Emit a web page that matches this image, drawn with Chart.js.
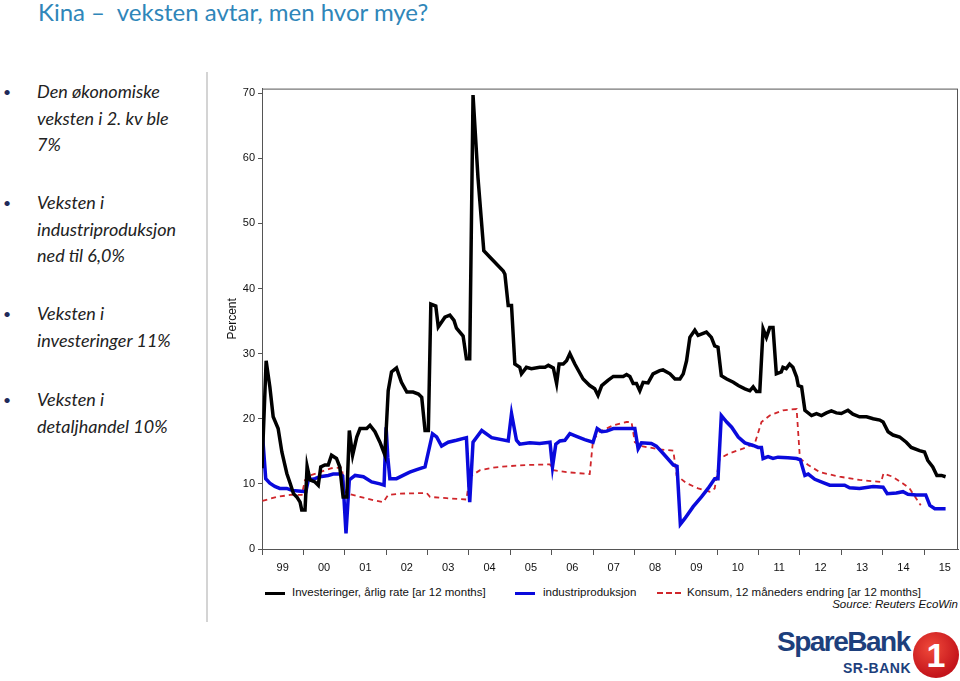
<!DOCTYPE html>
<html>
<head>
<meta charset="utf-8">
<script src="https://cdn.jsdelivr.net/npm/chart.js@4"></script>
<style>
  html, body { margin: 0; padding: 0; background: #fff; }
  #page { position: relative; width: 960px; height: 681px; overflow: hidden; font-family: 'Lato', 'Open Sans', sans-serif; }
  .title { position: absolute; left: 38px; top: -3px; font-size: 24px; color: #2f86b9; white-space: pre; }
  .bullet { position: absolute; left: 3px; font-size: 14px; color: #1f2a5a; }
  .txt { position: absolute; left: 37px; font-size: 18px; font-style: italic; color: #222; line-height: 26.5px; white-space: nowrap; }
  .sep { position: absolute; left: 206px; top: 72px; width: 2px; height: 550px; background: #d4d4d4; }
  #wrap { position: absolute; left: 200px; top: 79px; width: 760px; height: 505px; }
  .leg { position: absolute; top: 586px; font-family: 'Liberation Sans', Arial, sans-serif; font-size: 11.5px; color: #111; white-space: nowrap; }
  .legline { position: absolute; top: 592px; height: 0; }
  .src { position: absolute; right: 2px; top: 598px; font-family: 'Liberation Sans', Arial, sans-serif; font-size: 11.5px; font-style: italic; color: #111; }
  .logo1 { position: absolute; left: 777px; top: 626px; font-family: 'Liberation Sans', Arial, sans-serif; font-weight: bold; font-size: 28px; letter-spacing: -1.5px; color: #1d3f7c; }
  .logo2 { position: absolute; left: 843px; top: 660px; font-family: 'Liberation Sans', Arial, sans-serif; font-weight: bold; font-size: 14px; letter-spacing: 0.5px; color: #1d3f7c; }
  .logo3 { position: absolute; left: 913px; top: 632px; width: 46px; height: 46px; border-radius: 50%; background: radial-gradient(circle at 40% 35%, #f04a3a, #c4141b 70%); color: #fff; font-family: 'Liberation Sans', Arial, sans-serif; font-weight: bold; font-size: 34px; text-align: center; line-height: 46px; }
</style>
</head>
<body>
<div id="page">
  <div class="title">Kina –  veksten avtar, men hvor mye?</div>

  <div class="bullet" style="top:83px">•</div>
  <div class="txt" style="top:78px">Den økonomiske<br>veksten i 2. kv ble<br>7%</div>
  <div class="bullet" style="top:194px">•</div>
  <div class="txt" style="top:189px">Veksten i<br>industriproduksjon<br>ned til 6,0%</div>
  <div class="bullet" style="top:305px">•</div>
  <div class="txt" style="top:300px">Veksten i<br>investeringer 11%</div>
  <div class="bullet" style="top:391px">•</div>
  <div class="txt" style="top:386px">Veksten i<br>detaljhandel 10%</div>

  <div class="sep"></div>

  <div id="wrap"><canvas id="chart" width="760" height="505"></canvas></div>

  <div class="legline" style="left:265px;width:20px;border-top:3px solid #000"></div>
  <div class="leg" style="left:292px">Investeringer, årlig rate [ar 12 months]</div>
  <div class="legline" style="left:515px;width:20px;border-top:3px solid #0a0adc"></div>
  <div class="leg" style="left:543px">industriproduksjon</div>
  <div class="legline" style="left:657px;width:24px;border-top:2px dashed #d0262b"></div>
  <div class="leg" style="left:687px">Konsum, 12 måneders endring [ar 12 months]</div>
  <div class="src">Source: Reuters EcoWin</div>

  <div class="logo1">SpareBank</div>
  <div class="logo2">SR-BANK</div>
  <div class="logo3">1</div>
</div>

<script>
/* ── Data (x = år som desimaltall) ───────────────────────── */
const yearLabels = ['99','00','01','02','03','04','05','06','07','08','09','10','11','12','13','14','15'];

const invYears = [
  1999.00,1999.10,1999.19,1999.27,1999.39,1999.48,1999.60,1999.68,1999.76,1999.84,1999.92,1999.96,
  2000.04,2000.09,2000.16,2000.28,2000.36,2000.42,2000.52,2000.60,2000.68,2000.80,2000.88,2000.96,
  2001.05,2001.11,2001.19,2001.29,2001.37,2001.53,2001.61,2001.73,2001.85,2001.97,
  2002.05,2002.13,2002.25,2002.37,2002.50,2002.65,2002.78,2002.86,2002.94,
  2003.02,2003.08,2003.20,2003.26,2003.42,2003.54,2003.64,2003.70,2003.86,2003.94,
  2004.02,2004.10,2004.22,2004.36,2004.51,2004.83,2004.87,2004.95,
  2005.03,2005.11,2005.23,2005.27,2005.39,2005.51,2005.71,2005.84,2005.92,
  2006.04,2006.12,2006.18,2006.28,2006.36,2006.44,2006.56,2006.76,2006.92,
  2007.04,2007.12,2007.21,2007.36,2007.49,2007.73,2007.81,2007.89,2007.97,
  2008.05,2008.13,2008.21,2008.33,2008.45,2008.61,2008.69,2008.86,2008.98,
  2009.10,2009.18,2009.26,2009.34,2009.46,2009.54,2009.74,2009.86,2009.94,
  2010.02,2010.10,2010.23,2010.39,2010.51,2010.67,2010.79,2010.87,2010.95,
  2011.03,2011.11,2011.19,2011.27,2011.35,2011.43,2011.55,2011.59,2011.67,2011.75,2011.83,2011.92,2011.96,
  2012.04,2012.12,2012.28,2012.40,2012.52,2012.64,2012.76,2012.88,
  2013.00,2013.16,2013.28,2013.44,2013.61,2013.77,2013.93,
  2014.01,2014.13,2014.25,2014.41,2014.57,2014.69,2014.89,
  2015.01,2015.09,2015.21,2015.31,2015.42,2015.52
];
const invValues = [
  12.4,28.9,24.9,20.3,18.5,14.9,11.6,10.1,8.5,8.0,7.2,6.0,
  6.0,12.7,10.6,10.3,9.8,12.6,12.9,12.9,14.4,13.9,12.6,8.0,
  8.0,18.2,14.4,17.2,18.5,18.5,19.0,18.0,16.4,14.4,
  24.3,27.2,27.8,25.6,24.1,24.1,23.8,23.3,18.2,
  18.2,37.6,37.3,34.1,35.6,35.9,35.1,33.9,32.7,29.2,
  29.2,69.7,57.0,45.8,44.8,42.7,42.2,37.4,
  37.4,28.4,27.9,26.9,27.9,27.7,27.9,27.9,28.2,
  27.8,25.4,28.4,28.4,28.9,30.0,28.4,26.1,25.1,
  24.6,23.6,25.1,25.9,26.5,26.5,26.8,26.5,25.4,
  25.4,24.3,25.6,25.5,26.9,27.4,27.5,26.9,26.1,
  26.1,26.9,28.9,32.5,33.6,32.8,33.3,32.5,31.2,
  31.0,26.6,26.1,25.6,25.1,24.6,24.3,24.9,24.2,
  24.2,33.8,32.5,34.0,34.0,26.9,27.2,27.9,27.7,28.4,27.9,26.4,25.1,
  24.9,21.3,20.5,20.8,20.5,20.9,21.2,20.9,
  20.8,21.3,20.7,20.3,20.3,20.0,19.8,
  19.5,18.0,17.5,17.2,16.4,15.6,15.1,
  14.9,13.6,12.6,11.3,11.3,11.1
];

const indYears = [
  1999.01,1999.09,1999.19,1999.31,1999.43,1999.60,1999.72,1999.88,
  2000.06,2000.12,2000.28,2000.40,2000.60,2000.72,2000.88,2000.95,
  2001.03,2001.11,2001.25,2001.45,2001.65,2001.85,2001.95,
  2002.00,2002.04,2002.09,2002.25,2002.41,2002.57,2002.74,2002.94,
  2003.12,2003.22,2003.34,2003.50,2003.70,2003.94,
  2004.02,2004.10,2004.31,2004.55,2004.95,
  2005.03,2005.15,2005.23,2005.47,2005.71,2005.96,
  2006.02,2006.10,2006.20,2006.32,2006.44,2006.60,2006.80,
  2007.00,2007.10,2007.21,2007.33,2007.49,
  2008.01,2008.09,2008.17,2008.41,2008.53,2008.69,2008.94,
  2009.03,2009.11,2009.22,2009.42,2009.62,2009.78,2009.94,
  2010.02,2010.10,2010.23,2010.35,2010.51,2010.67,2010.87,2010.99,
  2011.07,2011.11,2011.23,2011.35,2011.47,2011.71,2011.92,
  2012.01,2012.12,2012.20,2012.36,2012.56,2012.72,
  2013.08,2013.20,2013.44,2013.77,
  2014.01,2014.11,2014.33,2014.49,2014.61,2014.81,
  2015.04,2015.14,2015.26,2015.52
];
const indValues = [
  17.7,10.8,10.1,9.6,9.3,9.3,9.0,8.9,
  8.8,10.6,10.8,11.1,11.3,11.5,11.5,11.2,
  2.4,10.6,11.3,11.1,10.3,10.0,9.8,
  18.7,14.1,10.8,10.8,11.3,11.8,12.2,12.6,
  17.7,17.2,15.8,16.4,16.7,17.1,
  7.2,16.4,18.2,17.1,16.6,
  20.8,16.7,16.1,16.3,16.2,16.4,
  12.6,16.1,16.6,16.7,17.7,17.3,16.8,
  16.4,18.5,18.0,18.1,18.5,
  18.5,15.4,16.3,16.2,15.8,14.7,12.9,
  12.7,3.8,4.7,6.5,8.0,9.3,10.8,
  10.8,20.5,19.5,18.7,17.2,16.3,15.9,15.6,
  15.6,13.9,14.2,13.9,14.1,14.0,13.9,
  13.7,11.3,11.5,10.7,10.2,9.8,
  9.8,9.4,9.3,9.6,
  9.5,8.5,8.6,8.8,8.4,8.3,
  8.3,6.7,6.2,6.2
];

const konYears = [
  1999.01,1999.36,1999.68,1999.96,
  2000.04,2000.16,2000.40,2000.68,2000.93,
  2001.00,2001.13,2001.37,2001.69,2001.93,
  2002.05,2002.33,2002.98,
  2003.06,2003.46,2003.94,
  2004.02,2004.27,2004.59,2004.91,
  2005.39,2005.96,
  2006.04,2006.36,2006.92,
  2007.00,2007.16,2007.49,2007.81,2007.93,
  2008.01,2008.17,2008.61,2008.94,
  2009.02,2009.26,2009.54,2009.82,2009.94,
  2010.06,2010.30,2010.62,2010.91,
  2011.07,2011.27,2011.59,2011.92,
  2012.00,2012.20,2012.48,2012.96,
  2013.44,2013.96,
  2014.02,2014.24,2014.48,2014.65,2014.92
];
const konValues = [
  7.4,8.0,8.3,8.3,
  10.6,11.3,11.8,12.4,12.5,
  8.8,8.4,8.0,7.5,7.2,
  8.3,8.5,8.6,
  8.0,7.8,7.6,
  11.1,12.1,12.5,12.7,
  12.9,13.0,
  12.1,11.8,11.5,
  16.7,18.0,19.0,19.5,19.5,
  16.4,15.8,15.3,15.1,
  11.3,10.1,9.3,8.8,9.3,
  13.9,14.7,15.4,16.2,
  19.5,20.5,21.3,21.5,
  13.9,12.9,11.8,11.1,
  10.6,10.3,
  11.6,11.1,10.1,9.3,6.7
];

/* ── Hjelpere ───────────────────────────────────────────── */
const toPoints = (xs, ys) => xs.map((x, i) => ({ x, y: ys[i] }));
const firstYear = 1999;
const xTicks = [];
yearLabels.forEach((_, i) => { xTicks.push(firstYear + i, firstYear + i + 0.5); });

const frame = {
  id: 'frame',
  beforeDatasetsDraw(chart) {
    const { ctx, chartArea: a } = chart;
    ctx.save();
    ctx.strokeStyle = '#555';
    ctx.lineWidth = 1;
    ctx.strokeRect(a.left + 0.5, a.top + 0.5, a.right - a.left - 1, a.bottom - a.top);
    ctx.restore();
  }
};

Chart.defaults.font.family = "'Liberation Sans', Arial, sans-serif";
Chart.defaults.font.size = 11;
Chart.defaults.color = '#111';

new Chart(document.getElementById('chart'), {
  type: 'line',
  data: {
    datasets: [
      { label: 'Investeringer, årlig rate [ar 12 months]', data: toPoints(invYears, invValues),
        borderColor: '#000', borderWidth: 3.5, pointRadius: 0, tension: 0 },
      { label: 'industriproduksjon', data: toPoints(indYears, indValues),
        borderColor: '#0a0adc', borderWidth: 3.5, pointRadius: 0, tension: 0 },
      { label: 'Konsum, 12 måneders endring [ar 12 months]', data: toPoints(konYears, konValues),
        borderColor: '#d0262b', borderWidth: 1.8, borderDash: [5, 4], pointRadius: 0, tension: 0 },
    ],
  },
  options: {
    responsive: false, animation: false, devicePixelRatio: 1,
    layout: { padding: { top: 4, right: 2, left: 0, bottom: 0 } },
    plugins: { legend: { display: false }, tooltip: { enabled: false } },
    scales: {
      x: {
        type: 'linear', min: 1999, max: 2015.82,
        afterBuildTicks: s => { s.ticks = xTicks.map(v => ({ value: v })); },
        afterFit: s => { s.height = 35; },
        ticks: {
          autoSkip: false, maxRotation: 0, padding: 6,
          callback: v => Number.isInteger(v) ? '' : yearLabels[Math.floor(v) - firstYear],
        },
        grid: {
          drawOnChartArea: false, tickLength: 6, tickWidth: 1,
          tickColor: c => (c.tick && Number.isInteger(c.tick.value)) ? '#555' : 'rgba(0,0,0,0)',
        },
        border: { color: '#555', width: 1 },
      },
      y: {
        min: 0, max: 70.7,
        afterFit: s => { s.width = 62; },
        ticks: { stepSize: 10, includeBounds: false, padding: 3 },
        grid: { drawOnChartArea: false, tickLength: 4, tickColor: '#555' },
        border: { color: '#555', width: 1 },
        title: { display: true, text: 'Percent', font: { size: 12 }, padding: { top: 25, bottom: 0 } },
      },
    },
  },
  plugins: [frame],
});
</script>
</body>
</html>
